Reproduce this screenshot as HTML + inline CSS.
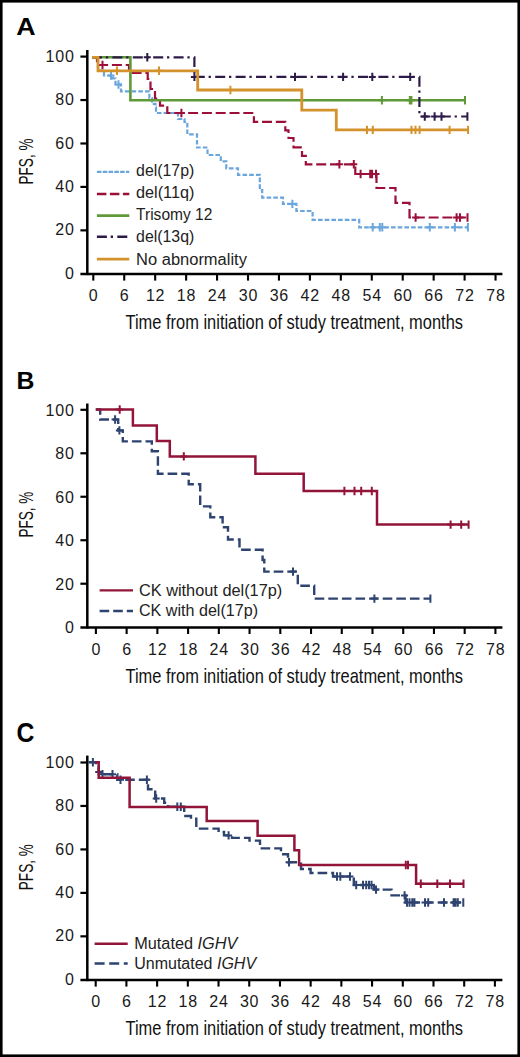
<!DOCTYPE html><html><head><meta charset="utf-8"><style>html,body{margin:0;padding:0;background:#fff}svg{display:block}text{font-family:"Liberation Sans", sans-serif}</style></head><body>
<svg width="520" height="1057" viewBox="0 0 520 1057">
<rect x="0" y="0" width="520" height="1057" fill="#fff"/>
<line x1="87.3" y1="50" x2="87.3" y2="275.1" stroke="#000" stroke-width="2.5"/>
<line x1="80.4" y1="274.1" x2="502.4" y2="274.1" stroke="#000" stroke-width="2.5"/>
<line x1="80.4" y1="230.36" x2="87.3" y2="230.36" stroke="#000" stroke-width="2.2"/>
<line x1="80.4" y1="186.92" x2="87.3" y2="186.92" stroke="#000" stroke-width="2.2"/>
<line x1="80.4" y1="143.48" x2="87.3" y2="143.48" stroke="#000" stroke-width="2.2"/>
<line x1="80.4" y1="100.04" x2="87.3" y2="100.04" stroke="#000" stroke-width="2.2"/>
<line x1="80.4" y1="56.60" x2="87.3" y2="56.60" stroke="#000" stroke-width="2.2"/>
<line x1="93.30" y1="273.8" x2="93.30" y2="280.6" stroke="#000" stroke-width="2.1"/>
<line x1="124.24" y1="273.8" x2="124.24" y2="280.6" stroke="#000" stroke-width="2.1"/>
<line x1="155.18" y1="273.8" x2="155.18" y2="280.6" stroke="#000" stroke-width="2.1"/>
<line x1="186.13" y1="273.8" x2="186.13" y2="280.6" stroke="#000" stroke-width="2.1"/>
<line x1="217.07" y1="273.8" x2="217.07" y2="280.6" stroke="#000" stroke-width="2.1"/>
<line x1="248.01" y1="273.8" x2="248.01" y2="280.6" stroke="#000" stroke-width="2.1"/>
<line x1="278.95" y1="273.8" x2="278.95" y2="280.6" stroke="#000" stroke-width="2.1"/>
<line x1="309.89" y1="273.8" x2="309.89" y2="280.6" stroke="#000" stroke-width="2.1"/>
<line x1="340.84" y1="273.8" x2="340.84" y2="280.6" stroke="#000" stroke-width="2.1"/>
<line x1="371.78" y1="273.8" x2="371.78" y2="280.6" stroke="#000" stroke-width="2.1"/>
<line x1="402.72" y1="273.8" x2="402.72" y2="280.6" stroke="#000" stroke-width="2.1"/>
<line x1="433.66" y1="273.8" x2="433.66" y2="280.6" stroke="#000" stroke-width="2.1"/>
<line x1="464.60" y1="273.8" x2="464.60" y2="280.6" stroke="#000" stroke-width="2.1"/>
<line x1="495.55" y1="273.8" x2="495.55" y2="280.6" stroke="#000" stroke-width="2.1"/>
<text x="74.7" y="278.90" text-anchor="end" font-size="16" letter-spacing="0.8" fill="#1a1a1a">0</text>
<text x="74.7" y="235.46" text-anchor="end" font-size="16" letter-spacing="0.8" fill="#1a1a1a">20</text>
<text x="74.7" y="192.02" text-anchor="end" font-size="16" letter-spacing="0.8" fill="#1a1a1a">40</text>
<text x="74.7" y="148.58" text-anchor="end" font-size="16" letter-spacing="0.8" fill="#1a1a1a">60</text>
<text x="74.7" y="105.14" text-anchor="end" font-size="16" letter-spacing="0.8" fill="#1a1a1a">80</text>
<text x="74.7" y="61.70" text-anchor="end" font-size="16" letter-spacing="0.8" fill="#1a1a1a">100</text>
<text x="93.70" y="300.8" text-anchor="middle" font-size="16" letter-spacing="0.8" fill="#1a1a1a">0</text>
<text x="124.64" y="300.8" text-anchor="middle" font-size="16" letter-spacing="0.8" fill="#1a1a1a">6</text>
<text x="155.58" y="300.8" text-anchor="middle" font-size="16" letter-spacing="0.8" fill="#1a1a1a">12</text>
<text x="186.53" y="300.8" text-anchor="middle" font-size="16" letter-spacing="0.8" fill="#1a1a1a">18</text>
<text x="217.47" y="300.8" text-anchor="middle" font-size="16" letter-spacing="0.8" fill="#1a1a1a">24</text>
<text x="248.41" y="300.8" text-anchor="middle" font-size="16" letter-spacing="0.8" fill="#1a1a1a">30</text>
<text x="279.35" y="300.8" text-anchor="middle" font-size="16" letter-spacing="0.8" fill="#1a1a1a">36</text>
<text x="310.29" y="300.8" text-anchor="middle" font-size="16" letter-spacing="0.8" fill="#1a1a1a">42</text>
<text x="341.24" y="300.8" text-anchor="middle" font-size="16" letter-spacing="0.8" fill="#1a1a1a">48</text>
<text x="372.18" y="300.8" text-anchor="middle" font-size="16" letter-spacing="0.8" fill="#1a1a1a">54</text>
<text x="403.12" y="300.8" text-anchor="middle" font-size="16" letter-spacing="0.8" fill="#1a1a1a">60</text>
<text x="434.06" y="300.8" text-anchor="middle" font-size="16" letter-spacing="0.8" fill="#1a1a1a">66</text>
<text x="465.00" y="300.8" text-anchor="middle" font-size="16" letter-spacing="0.8" fill="#1a1a1a">72</text>
<text x="495.95" y="300.8" text-anchor="middle" font-size="16" letter-spacing="0.8" fill="#1a1a1a">78</text>
<text x="125.5" y="329.3" font-size="19.8" textLength="337.5" lengthAdjust="spacingAndGlyphs" fill="#111">Time from initiation of study treatment, months</text>
<text transform="translate(33.4,161.5) rotate(-90)" x="0" y="0" text-anchor="middle" font-size="20" textLength="46" lengthAdjust="spacingAndGlyphs" fill="#111">PFS, %</text>
<text transform="translate(16.3,35.4) scale(1.08,1.0)" x="0" y="0" font-size="24.8" font-weight="bold" fill="#000">A</text>
<line x1="87.3" y1="403.5" x2="87.3" y2="628.5" stroke="#000" stroke-width="2.5"/>
<line x1="80.4" y1="627.5" x2="502.4" y2="627.5" stroke="#000" stroke-width="2.5"/>
<line x1="80.4" y1="583.72" x2="87.3" y2="583.72" stroke="#000" stroke-width="2.2"/>
<line x1="80.4" y1="540.24" x2="87.3" y2="540.24" stroke="#000" stroke-width="2.2"/>
<line x1="80.4" y1="496.76" x2="87.3" y2="496.76" stroke="#000" stroke-width="2.2"/>
<line x1="80.4" y1="453.28" x2="87.3" y2="453.28" stroke="#000" stroke-width="2.2"/>
<line x1="80.4" y1="409.80" x2="87.3" y2="409.80" stroke="#000" stroke-width="2.2"/>
<line x1="95.90" y1="627.2" x2="95.90" y2="634.0" stroke="#000" stroke-width="2.1"/>
<line x1="126.63" y1="627.2" x2="126.63" y2="634.0" stroke="#000" stroke-width="2.1"/>
<line x1="157.36" y1="627.2" x2="157.36" y2="634.0" stroke="#000" stroke-width="2.1"/>
<line x1="188.10" y1="627.2" x2="188.10" y2="634.0" stroke="#000" stroke-width="2.1"/>
<line x1="218.83" y1="627.2" x2="218.83" y2="634.0" stroke="#000" stroke-width="2.1"/>
<line x1="249.56" y1="627.2" x2="249.56" y2="634.0" stroke="#000" stroke-width="2.1"/>
<line x1="280.29" y1="627.2" x2="280.29" y2="634.0" stroke="#000" stroke-width="2.1"/>
<line x1="311.02" y1="627.2" x2="311.02" y2="634.0" stroke="#000" stroke-width="2.1"/>
<line x1="341.76" y1="627.2" x2="341.76" y2="634.0" stroke="#000" stroke-width="2.1"/>
<line x1="372.49" y1="627.2" x2="372.49" y2="634.0" stroke="#000" stroke-width="2.1"/>
<line x1="403.22" y1="627.2" x2="403.22" y2="634.0" stroke="#000" stroke-width="2.1"/>
<line x1="433.95" y1="627.2" x2="433.95" y2="634.0" stroke="#000" stroke-width="2.1"/>
<line x1="464.68" y1="627.2" x2="464.68" y2="634.0" stroke="#000" stroke-width="2.1"/>
<line x1="495.42" y1="627.2" x2="495.42" y2="634.0" stroke="#000" stroke-width="2.1"/>
<text x="74.7" y="633.10" text-anchor="end" font-size="16" letter-spacing="0.8" fill="#1a1a1a">0</text>
<text x="74.7" y="589.62" text-anchor="end" font-size="16" letter-spacing="0.8" fill="#1a1a1a">20</text>
<text x="74.7" y="546.14" text-anchor="end" font-size="16" letter-spacing="0.8" fill="#1a1a1a">40</text>
<text x="74.7" y="502.66" text-anchor="end" font-size="16" letter-spacing="0.8" fill="#1a1a1a">60</text>
<text x="74.7" y="459.18" text-anchor="end" font-size="16" letter-spacing="0.8" fill="#1a1a1a">80</text>
<text x="74.7" y="415.70" text-anchor="end" font-size="16" letter-spacing="0.8" fill="#1a1a1a">100</text>
<text x="96.30" y="655.0" text-anchor="middle" font-size="16" letter-spacing="0.8" fill="#1a1a1a">0</text>
<text x="127.03" y="655.0" text-anchor="middle" font-size="16" letter-spacing="0.8" fill="#1a1a1a">6</text>
<text x="157.76" y="655.0" text-anchor="middle" font-size="16" letter-spacing="0.8" fill="#1a1a1a">12</text>
<text x="188.50" y="655.0" text-anchor="middle" font-size="16" letter-spacing="0.8" fill="#1a1a1a">18</text>
<text x="219.23" y="655.0" text-anchor="middle" font-size="16" letter-spacing="0.8" fill="#1a1a1a">24</text>
<text x="249.96" y="655.0" text-anchor="middle" font-size="16" letter-spacing="0.8" fill="#1a1a1a">30</text>
<text x="280.69" y="655.0" text-anchor="middle" font-size="16" letter-spacing="0.8" fill="#1a1a1a">36</text>
<text x="311.42" y="655.0" text-anchor="middle" font-size="16" letter-spacing="0.8" fill="#1a1a1a">42</text>
<text x="342.16" y="655.0" text-anchor="middle" font-size="16" letter-spacing="0.8" fill="#1a1a1a">48</text>
<text x="372.89" y="655.0" text-anchor="middle" font-size="16" letter-spacing="0.8" fill="#1a1a1a">54</text>
<text x="403.62" y="655.0" text-anchor="middle" font-size="16" letter-spacing="0.8" fill="#1a1a1a">60</text>
<text x="434.35" y="655.0" text-anchor="middle" font-size="16" letter-spacing="0.8" fill="#1a1a1a">66</text>
<text x="465.08" y="655.0" text-anchor="middle" font-size="16" letter-spacing="0.8" fill="#1a1a1a">72</text>
<text x="495.82" y="655.0" text-anchor="middle" font-size="16" letter-spacing="0.8" fill="#1a1a1a">78</text>
<text x="125.5" y="682.7" font-size="19.8" textLength="337.5" lengthAdjust="spacingAndGlyphs" fill="#111">Time from initiation of study treatment, months</text>
<text transform="translate(33.4,514.6) rotate(-90)" x="0" y="0" text-anchor="middle" font-size="20" textLength="46" lengthAdjust="spacingAndGlyphs" fill="#111">PFS, %</text>
<text transform="translate(16.6,388.6)" x="0" y="0" font-size="24.8" font-weight="bold" fill="#000">B</text>
<line x1="87.3" y1="755.6" x2="87.3" y2="981.0999999999999" stroke="#000" stroke-width="2.5"/>
<line x1="80.4" y1="980.0999999999999" x2="502.4" y2="980.0999999999999" stroke="#000" stroke-width="2.5"/>
<line x1="80.4" y1="936.34" x2="87.3" y2="936.34" stroke="#000" stroke-width="2.2"/>
<line x1="80.4" y1="892.88" x2="87.3" y2="892.88" stroke="#000" stroke-width="2.2"/>
<line x1="80.4" y1="849.42" x2="87.3" y2="849.42" stroke="#000" stroke-width="2.2"/>
<line x1="80.4" y1="805.96" x2="87.3" y2="805.96" stroke="#000" stroke-width="2.2"/>
<line x1="80.4" y1="762.50" x2="87.3" y2="762.50" stroke="#000" stroke-width="2.2"/>
<line x1="95.70" y1="979.8" x2="95.70" y2="986.5999999999999" stroke="#000" stroke-width="2.1"/>
<line x1="126.41" y1="979.8" x2="126.41" y2="986.5999999999999" stroke="#000" stroke-width="2.1"/>
<line x1="157.12" y1="979.8" x2="157.12" y2="986.5999999999999" stroke="#000" stroke-width="2.1"/>
<line x1="187.82" y1="979.8" x2="187.82" y2="986.5999999999999" stroke="#000" stroke-width="2.1"/>
<line x1="218.53" y1="979.8" x2="218.53" y2="986.5999999999999" stroke="#000" stroke-width="2.1"/>
<line x1="249.24" y1="979.8" x2="249.24" y2="986.5999999999999" stroke="#000" stroke-width="2.1"/>
<line x1="279.95" y1="979.8" x2="279.95" y2="986.5999999999999" stroke="#000" stroke-width="2.1"/>
<line x1="310.66" y1="979.8" x2="310.66" y2="986.5999999999999" stroke="#000" stroke-width="2.1"/>
<line x1="341.36" y1="979.8" x2="341.36" y2="986.5999999999999" stroke="#000" stroke-width="2.1"/>
<line x1="372.07" y1="979.8" x2="372.07" y2="986.5999999999999" stroke="#000" stroke-width="2.1"/>
<line x1="402.78" y1="979.8" x2="402.78" y2="986.5999999999999" stroke="#000" stroke-width="2.1"/>
<line x1="433.49" y1="979.8" x2="433.49" y2="986.5999999999999" stroke="#000" stroke-width="2.1"/>
<line x1="464.20" y1="979.8" x2="464.20" y2="986.5999999999999" stroke="#000" stroke-width="2.1"/>
<line x1="494.90" y1="979.8" x2="494.90" y2="986.5999999999999" stroke="#000" stroke-width="2.1"/>
<text x="74.7" y="984.90" text-anchor="end" font-size="16" letter-spacing="0.8" fill="#1a1a1a">0</text>
<text x="74.7" y="941.44" text-anchor="end" font-size="16" letter-spacing="0.8" fill="#1a1a1a">20</text>
<text x="74.7" y="897.98" text-anchor="end" font-size="16" letter-spacing="0.8" fill="#1a1a1a">40</text>
<text x="74.7" y="854.52" text-anchor="end" font-size="16" letter-spacing="0.8" fill="#1a1a1a">60</text>
<text x="74.7" y="811.06" text-anchor="end" font-size="16" letter-spacing="0.8" fill="#1a1a1a">80</text>
<text x="74.7" y="767.60" text-anchor="end" font-size="16" letter-spacing="0.8" fill="#1a1a1a">100</text>
<text x="96.10" y="1006.6" text-anchor="middle" font-size="16" letter-spacing="0.8" fill="#1a1a1a">0</text>
<text x="126.81" y="1006.6" text-anchor="middle" font-size="16" letter-spacing="0.8" fill="#1a1a1a">6</text>
<text x="157.52" y="1006.6" text-anchor="middle" font-size="16" letter-spacing="0.8" fill="#1a1a1a">12</text>
<text x="188.22" y="1006.6" text-anchor="middle" font-size="16" letter-spacing="0.8" fill="#1a1a1a">18</text>
<text x="218.93" y="1006.6" text-anchor="middle" font-size="16" letter-spacing="0.8" fill="#1a1a1a">24</text>
<text x="249.64" y="1006.6" text-anchor="middle" font-size="16" letter-spacing="0.8" fill="#1a1a1a">30</text>
<text x="280.35" y="1006.6" text-anchor="middle" font-size="16" letter-spacing="0.8" fill="#1a1a1a">36</text>
<text x="311.06" y="1006.6" text-anchor="middle" font-size="16" letter-spacing="0.8" fill="#1a1a1a">42</text>
<text x="341.76" y="1006.6" text-anchor="middle" font-size="16" letter-spacing="0.8" fill="#1a1a1a">48</text>
<text x="372.47" y="1006.6" text-anchor="middle" font-size="16" letter-spacing="0.8" fill="#1a1a1a">54</text>
<text x="403.18" y="1006.6" text-anchor="middle" font-size="16" letter-spacing="0.8" fill="#1a1a1a">60</text>
<text x="433.89" y="1006.6" text-anchor="middle" font-size="16" letter-spacing="0.8" fill="#1a1a1a">66</text>
<text x="464.60" y="1006.6" text-anchor="middle" font-size="16" letter-spacing="0.8" fill="#1a1a1a">72</text>
<text x="495.30" y="1006.6" text-anchor="middle" font-size="16" letter-spacing="0.8" fill="#1a1a1a">78</text>
<text x="125.5" y="1034.8" font-size="19.8" textLength="337.5" lengthAdjust="spacingAndGlyphs" fill="#111">Time from initiation of study treatment, months</text>
<text transform="translate(33.4,867.2) rotate(-90)" x="0" y="0" text-anchor="middle" font-size="20" textLength="46" lengthAdjust="spacingAndGlyphs" fill="#111">PFS, %</text>
<text transform="translate(16.6,741.5) scale(1.0,1.08)" x="0" y="0" font-size="24.8" font-weight="bold" fill="#000">C</text>
<line x1="96.9" y1="171.9" x2="129.3" y2="171.9" stroke="#6aa6dc" stroke-width="2.4" stroke-dasharray="4.6 1.2"/>
<text x="136.1" y="175.5" font-size="16" fill="#222" textLength="58.2" lengthAdjust="spacingAndGlyphs">del(17p)</text>
<line x1="96.9" y1="194.0" x2="129.3" y2="194.0" stroke="#9c0f3a" stroke-width="2.4" stroke-dasharray="9.5 3.5"/>
<text x="136.1" y="197.75" font-size="16" fill="#222" textLength="58.2" lengthAdjust="spacingAndGlyphs">del(11q)</text>
<line x1="96.9" y1="215.6" x2="129.3" y2="215.6" stroke="#609a38" stroke-width="2.7"/>
<text x="136.1" y="220.0" font-size="16" fill="#222" textLength="76.2" lengthAdjust="spacingAndGlyphs">Trisomy 12</text>
<line x1="96.9" y1="236.8" x2="129.3" y2="236.8" stroke="#2e1a48" stroke-width="2.4" stroke-dasharray="10 3.8 2.3 4.3"/>
<text x="136.1" y="242.25" font-size="16" fill="#222" textLength="58.2" lengthAdjust="spacingAndGlyphs">del(13q)</text>
<line x1="96.9" y1="259.2" x2="129.3" y2="259.2" stroke="#d4922c" stroke-width="2.7"/>
<text x="136.1" y="264.5" font-size="16" fill="#222" textLength="110.8" lengthAdjust="spacingAndGlyphs">No abnormality</text>
<line x1="99.6" y1="590.4" x2="133" y2="590.4" stroke="#921539" stroke-width="2.4"/>
<text x="139.0" y="595.5" font-size="16" fill="#222" textLength="143.2" lengthAdjust="spacingAndGlyphs">CK without del(17p)</text>
<line x1="99.6" y1="611" x2="133" y2="611" stroke="#2e4370" stroke-width="2.4" stroke-dasharray="9.6 4"/>
<text x="139.0" y="615.7" font-size="16" fill="#222" textLength="119.0" lengthAdjust="spacingAndGlyphs">CK with del(17p)</text>
<line x1="94.6" y1="943.8" x2="127.7" y2="943.8" stroke="#921539" stroke-width="2.4"/>
<text x="134.2" y="948.5" font-size="16" fill="#222" textLength="103.2" lengthAdjust="spacingAndGlyphs">Mutated <tspan font-style="italic">IGHV</tspan></text>
<line x1="94.6" y1="963.5" x2="127.7" y2="963.5" stroke="#2e4370" stroke-width="2.4" stroke-dasharray="10 4.6"/>
<text x="134.2" y="968.5" font-size="16" fill="#222" textLength="121.9" lengthAdjust="spacingAndGlyphs">Unmutated <tspan font-style="italic">IGHV</tspan></text>
<path d="M92,57.3 H98 V70.5 H104 V75.5 H113 V78.5 H115.5 V84.5 H121 V91.4 H149.4 V98.1 H152 V103.8 H155.5 V107.3 H156 V113 H178 V119 H184.5 V122 H187.3 V134.4 H197 V147.5 H207.5 V155 H220.8 V161.3 H226.3 V168.3 H238 V174.8 H259.8 V190 H262.2 V197.6 H283 V203.9 H296.4 V211 H312.6 V219.9 H359.2 V227.3 H467.9" fill="none" stroke="#6aa6dc" stroke-width="2.2" stroke-linejoin="miter" stroke-linecap="butt" stroke-dasharray="4.6 2.1"/>
<path d="M111,71.3 V79.7 M107.5,75.5 H114.5 M118.5,80.3 V88.7 M115.0,84.5 H122.0 M292.4,199.70000000000002 V208.1 M288.9,203.9 H295.9 M372.7,223.10000000000002 V231.5 M369.2,227.3 H376.2 M379.8,223.10000000000002 V231.5 M376.3,227.3 H383.3 M382.3,223.10000000000002 V231.5 M378.8,227.3 H385.8 M429.8,223.10000000000002 V231.5 M426.3,227.3 H433.3 M454.9,223.10000000000002 V231.5 M451.4,227.3 H458.4 M467.9,223.10000000000002 V231.5 " fill="none" stroke="#6aa6dc" stroke-width="2"/>
<path d="M92,57.3 H97 V65 H129 V72.9 H147.7 V79 H150.5 V89 H155 V98.7 H160 V105.6 H167.3 V113 H253.9 V121.9 H285.3 V130.4 H288.5 V138 H293.5 V147.3 H302 V155.8 H305.8 V164.3 H355.3 V174 H376.5 V188 H395.5 V202.8 H409.5 V217.5 H467.9" fill="none" stroke="#9c0f3a" stroke-width="2.2" stroke-linejoin="miter" stroke-linecap="butt" stroke-dasharray="10 3.8"/>
<path d="M102.5,60.8 V69.2 M99.0,65 H106.0 M181.4,108.8 V117.2 M177.9,113 H184.9 M339.4,160.10000000000002 V168.5 M335.9,164.3 H342.9 M353.8,160.10000000000002 V168.5 M350.3,164.3 H357.3 M360.6,169.8 V178.2 M357.1,174 H364.1 M370.2,169.8 V178.2 M366.7,174 H373.7 M372.1,169.8 V178.2 M368.6,174 H375.6 M376,169.8 V178.2 M372.5,174 H379.5 M415.6,213.3 V221.7 M412.1,217.5 H419.1 M456.6,213.3 V221.7 M453.1,217.5 H460.1 M460,213.3 V221.7 M456.5,217.5 H463.5 M467.5,213.3 V221.7 " fill="none" stroke="#9c0f3a" stroke-width="2"/>
<path d="M92,57.3 H130.4 V100.3 H465" fill="none" stroke="#609a38" stroke-width="2.6" stroke-linejoin="miter" stroke-linecap="butt"/>
<path d="M381.9,96.1 V104.5 M378.4,100.3 H385.4 M409.8,96.1 V104.5 M406.3,100.3 H413.3 M411.4,96.1 V104.5 M407.9,100.3 H414.9 M465,96.1 V104.5 " fill="none" stroke="#609a38" stroke-width="2"/>
<path d="M92,57.3 H194.4 V76.9 H419.4 V116.5 H467.4" fill="none" stroke="#2e1a48" stroke-width="2.2" stroke-linejoin="miter" stroke-linecap="butt" stroke-dasharray="10 3.8 2.3 4.3"/>
<path d="M147.3,53.099999999999994 V61.5 M143.8,57.3 H150.8 M194.4,72.7 V81.10000000000001 M190.9,76.9 H197.9 M295,72.7 V81.10000000000001 M291.5,76.9 H298.5 M343.1,72.7 V81.10000000000001 M339.6,76.9 H346.6 M372.3,72.7 V81.10000000000001 M368.8,76.9 H375.8 M410.2,72.7 V81.10000000000001 M406.7,76.9 H413.7 M424.8,112.3 V120.7 M421.3,116.5 H428.3 M434.6,112.3 V120.7 M431.1,116.5 H438.1 M441.5,112.3 V120.7 M438.0,116.5 H445.0 M467.4,112.3 V120.7 " fill="none" stroke="#2e1a48" stroke-width="2"/>
<path d="M92,57.3 H98 V70.8 H197.7 V90 H301.8 V110.2 H336.3 V129.9 H468.1" fill="none" stroke="#d4922c" stroke-width="2.8" stroke-linejoin="miter" stroke-linecap="butt"/>
<path d="M117,66.6 V75.0 M113.5,70.8 H120.5 M159,66.6 V75.0 M155.5,70.8 H162.5 M230.4,85.8 V94.2 M226.9,90 H233.9 M367,125.7 V134.1 M363.5,129.9 H370.5 M372.8,125.7 V134.1 M369.3,129.9 H376.3 M411.5,125.7 V134.1 M408.0,129.9 H415.0 M415.5,125.7 V134.1 M412.0,129.9 H419.0 M419.6,125.7 V134.1 M416.1,129.9 H423.1 M449.6,125.7 V134.1 M446.1,129.9 H453.1 M468.1,125.7 V134.1 " fill="none" stroke="#d4922c" stroke-width="2"/>
<path d="M95.8,409.5 H100.2 V419.5 H118.2 V430.4 H122.8 V441.4 H151.8 V451.3 H157.9 V473.7 H188.7 V484.2 H200.2 V506.4 H210.3 V517.2 H222.6 V527.3 H228 V539.5 H239.5 V549.8 H262.6 V560 H264.3 V571.6 H297.8 V585.8 H314.2 V598.6 H430.4" fill="none" stroke="#2e4370" stroke-width="2.4" stroke-linejoin="miter" stroke-linecap="butt" stroke-dasharray="9.6 4"/>
<path d="M115.1,415.3 V423.7 M111.6,419.5 H118.6 M119.4,426.2 V434.59999999999997 M115.9,430.4 H122.9 M293,567.4 V575.8000000000001 M289.5,571.6 H296.5 M374.4,594.4 V602.8000000000001 M370.9,598.6 H377.9 M430.4,594.4 V602.8000000000001 " fill="none" stroke="#2e4370" stroke-width="2"/>
<path d="M95.8,409.5 H132.9 V425.5 H156.8 V441 H169.8 V456.4 H255.4 V473.7 H303.7 V491 H377 V524.6 H469" fill="none" stroke="#921539" stroke-width="2.5" stroke-linejoin="miter" stroke-linecap="butt"/>
<path d="M119.7,405.3 V413.7 M116.2,409.5 H123.2 M183.8,452.2 V460.59999999999997 M180.3,456.4 H187.3 M344.4,486.8 V495.2 M340.9,491 H347.9 M354.5,486.8 V495.2 M351.0,491 H358.0 M361.2,486.8 V495.2 M357.7,491 H364.7 M371.8,486.8 V495.2 M368.3,491 H375.3 M450.6,520.4 V528.8000000000001 M447.1,524.6 H454.1 M461.2,520.4 V528.8000000000001 M457.7,524.6 H464.7 M468.6,520.4 V528.8000000000001 " fill="none" stroke="#921539" stroke-width="2"/>
<path d="M88.3,762.3 H96 V766.5 H98.7 V772 H100 V774.2 H117.3 V779.8 H148 V789.2 H155.2 V798.5 H164.2 V802.8 H168 V806.8 H184.2 V816 H191 V818.8 H196.3 V828.6 H218.6 V832 H224 V835.4 H232 V837.9 H249.5 V840.6 H260 V848.4 H281 V854.2 H288 V862.3 H301 V869 H310.6 V873 H333 V876.5 H353.8 V885 H373.8 V889.6 H391.5 V895.4 H405.6 V902.5 H463.5" fill="none" stroke="#2e4370" stroke-width="2.4" stroke-linejoin="miter" stroke-linecap="butt" stroke-dasharray="9.6 4"/>
<path d="M92.9,758.0999999999999 V766.5 M89.4,762.3 H96.4 M98.7,767.8 V776.2 M95.2,772 H102.2 M102.5,770.0 V778.4000000000001 M99.0,774.2 H106.0 M112.5,770.0 V778.4000000000001 M109.0,774.2 H116.0 M120.5,775.5999999999999 V784.0 M117.0,779.8 H124.0 M146.9,775.5999999999999 V784.0 M143.4,779.8 H150.4 M156.2,794.3 V802.7 M152.7,798.5 H159.7 M177.3,802.5999999999999 V811.0 M173.8,806.8 H180.8 M180.8,802.5999999999999 V811.0 M177.3,806.8 H184.3 M228.6,831.1999999999999 V839.6 M225.1,835.4 H232.1 M289,858.0999999999999 V866.5 M285.5,862.3 H292.5 M337,872.3 V880.7 M333.5,876.5 H340.5 M340.3,872.3 V880.7 M336.8,876.5 H343.8 M350,872.3 V880.7 M346.5,876.5 H353.5 M356.2,880.8 V889.2 M352.7,885 H359.7 M363,880.8 V889.2 M359.5,885 H366.5 M366.2,880.8 V889.2 M362.7,885 H369.7 M369,880.8 V889.2 M365.5,885 H372.5 M371.5,880.8 V889.2 M368.0,885 H375.0 M376,885.4 V893.8000000000001 M372.5,889.6 H379.5 M404.6,891.1999999999999 V899.6 M401.1,895.4 H408.1 M407,898.3 V906.7 M403.5,902.5 H410.5 M409.5,898.3 V906.7 M406.0,902.5 H413.0 M412.3,898.3 V906.7 M408.8,902.5 H415.8 M414.4,898.3 V906.7 M410.9,902.5 H417.9 M425,898.3 V906.7 M421.5,902.5 H428.5 M428.2,898.3 V906.7 M424.7,902.5 H431.7 M444,898.3 V906.7 M440.5,902.5 H447.5 M453.6,898.3 V906.7 M450.1,902.5 H457.1 M455.5,898.3 V906.7 M452.0,902.5 H459.0 M457.8,898.3 V906.7 M454.3,902.5 H461.3 M463.3,898.3 V906.7 " fill="none" stroke="#2e4370" stroke-width="2"/>
<path d="M95.2,762.3 H98.7 V777.8 H129.6 V807.1 H206.7 V821 H257.6 V835.8 H294.4 V850.2 H299.1 V865 H416.1 V883.8 H463.5" fill="none" stroke="#921539" stroke-width="2.5" stroke-linejoin="miter" stroke-linecap="butt"/>
<path d="M405.8,860.8 V869.2 M402.3,865 H409.3 M408,860.8 V869.2 M404.5,865 H411.5 M420.8,879.5999999999999 V888.0 M417.3,883.8 H424.3 M437.3,879.5999999999999 V888.0 M433.8,883.8 H440.8 M450,879.5999999999999 V888.0 M446.5,883.8 H453.5 M463.5,879.5999999999999 V888.0 " fill="none" stroke="#921539" stroke-width="2"/>
<rect x="1.3" y="1.3" width="517.4" height="1054.4" fill="none" stroke="#000" stroke-width="2.6"/>
</svg></body></html>
